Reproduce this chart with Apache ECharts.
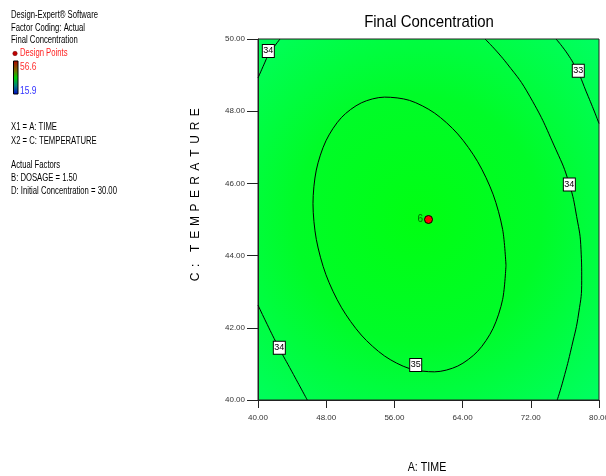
<!DOCTYPE html>
<html>
<head>
<meta charset="utf-8">
<script src="https://cdn.jsdelivr.net/npm/echarts@6/dist/echarts.min.js"></script>
<style>html,body{margin:0;padding:0;background:#fff}#c{width:606px;height:476px}</style>
</head>
<body>
<div id="c"></div>
<script>
// ---- data ----
var xTicks = [40, 48, 56, 64, 72, 80];
var yTicks = [40, 42, 44, 46, 48, 50];
// contour level 35 (closed loop), [TIME, TEMPERATURE]
var contour35 = [
  [69.09,43.73],[68.70,42.79],[67.57,41.98],[65.77,41.35],[63.43,40.94],[60.70,40.78],
  [57.77,40.87],[54.84,41.22],[52.11,41.80],[49.77,42.57],[47.97,43.47],[46.84,44.45],
  [46.45,45.44],[46.84,46.37],[47.97,47.18],[49.77,47.82],[52.11,48.23],[54.84,48.39],
  [57.77,48.30],[60.70,47.95],[63.43,47.37],[65.77,46.60],[67.57,45.70],[68.70,44.72],
  [69.09,43.73]
];
var contour34TopLeft = [[42.58,50.00],[41.21,49.56],[40.82,49.36],[40.00,48.92]];
var contour34Right = [
  [66.63,50.00],[69.17,49.33],[71.91,48.40],[74.96,46.93],[76.48,46.01],[77.38,45.08],
  [77.89,44.16],[77.97,43.32],[77.62,42.41],[76.80,41.48],[75.80,40.55],[75.10,40.00]
];
var contour34BottomLeft = [[40.00,42.63],[40.82,42.22],[42.38,41.48],[43.99,40.78],[45.78,40.00]];
var contour33 = [[74.96,50.00],[76.99,49.33],[78.75,48.40],[80.00,47.66]];
var contourLabels = [
  [41.21,49.67,'34'],[77.57,49.12,'33'],[76.52,45.97,'34'],[42.50,41.45,'34'],[58.50,40.97,'35']
];
var designPoints = [[60,45,'6']];
var infoLines = ['Design-Expert\u00ae Software','Factor Coding: Actual','Final Concentration'];
var factorLines = ['X1 = A: TIME','X2 = C: TEMPERATURE'];
var actualLines = ['Actual Factors','B: DOSAGE = 1.50','D: Initial Concentration = 30.00'];
var scaleMax = '56.6', scaleMin = '15.9';
var titleText = 'Final Concentration';
var xName = 'A: TIME';
var yNameLetters = ['C',':','T','E','M','P','E','R','A','T','U','R','E'];

var chart = echarts.init(document.getElementById('c'), null, {renderer:'canvas'});
var sans = '"Liberation Sans", Arial, sans-serif';

function lineSeries(d, s){
  return {type:'line', data:d, smooth:s||0.3, symbol:'none', silent:true,
    lineStyle:{color:'#000', width:1}, z:3};
}
var graphics = [];
function txt(x,y,t,color,size,sx,align){
  graphics.push({type:'text', x:x, y:y, scaleX:sx||0.77,
    style:{text:t, x:0, y:0, fill:color||'#000', font:(size||10)+'px '+sans,
      textAlign:align||'left', textVerticalAlign:'middle'}});
}
infoLines.forEach(function(t,i){ txt(11, 15.7+i*12.5, t); });
graphics.push({type:'circle', shape:{cx:15, cy:53.5, r:2.2}, style:{fill:'#c00000', stroke:'#600', lineWidth:0.5}});
txt(20, 53.3, 'Design Points', '#ff2020');
graphics.push({type:'rect', shape:{x:13.5, y:61, width:4.5, height:33},
  style:{stroke:'#000', lineWidth:1, fill:new echarts.graphic.LinearGradient(0,0,0,1,[
    {offset:0,color:'#b00000'},{offset:0.3,color:'#707000'},{offset:0.5,color:'#00d000'},
    {offset:0.75,color:'#008080'},{offset:1,color:'#0000d0'}])}});
txt(20, 66.7, scaleMax, '#ff3030', 11);
txt(20, 90.5, scaleMin, '#3030ff', 11);
factorLines.forEach(function(t,i){ txt(11, 127.7+i*13.3, t); });
actualLines.forEach(function(t,i){ txt(11, 165.7+i*13, t); });
// title
txt(429, 22, titleText, '#000', 17, 0.88, 'center');
// x axis name
txt(427, 467, xName, '#000', 13, 0.82, 'center');
// y axis name, letter spaced, reading bottom to top
yNameLetters.forEach(function(ch,i){
  var yy = 277 - i*13.6 + (i>=2 ? -1.5 : 0) + (i===1 ? 2 : 0);
  graphics.push({type:'group', x:196, y:yy, rotation:Math.PI/2, children:[
    {type:'text', style:{text:ch, x:0, y:0, fill:'#000', font:'12px '+sans, textAlign:'center', textVerticalAlign:'middle'}}]});
});

chart.setOption({
  animation:false,
  backgroundColor:'#fff',
  grid:{left:258, right:7, top:39, bottom:76, show:true, borderColor:'#222', borderWidth:1,
    outerBoundsMode:'none', containLabel:false,
    backgroundColor:new echarts.graphic.RadialGradient(0.47,0.5,0.8,[
      {offset:0,color:'#00ff12'},{offset:0.45,color:'#00fc28'},{offset:1,color:'#00ff6a'}])},
  xAxis:{type:'value', min:xTicks[0], max:xTicks[xTicks.length-1], interval:xTicks[1]-xTicks[0],
    axisLine:{show:true, onZero:false, lineStyle:{color:'#222'}},
    axisTick:{show:true, length:8, lineStyle:{color:'#222'}},
    axisLabel:{formatter:function(v){return v.toFixed(2);}, fontSize:8, fontFamily:sans, color:'#333', margin:14,
      showMinLabel:true, showMaxLabel:true, hideOverlap:false},
    splitLine:{show:false}},
  yAxis:{type:'value', min:yTicks[0], max:yTicks[yTicks.length-1], interval:yTicks[1]-yTicks[0],
    axisLine:{show:true, onZero:false, lineStyle:{color:'#222'}},
    axisTick:{show:true, length:11, lineStyle:{color:'#222'}},
    axisLabel:{formatter:function(v){return v.toFixed(2);}, fontSize:8, fontFamily:sans, color:'#333', margin:13,
      showMinLabel:true, showMaxLabel:true, hideOverlap:false},
    splitLine:{show:false}},
  graphic:graphics,
  series:[
    lineSeries(contour35), lineSeries(contour34TopLeft), lineSeries(contour34Right, 0.5),
    lineSeries(contour34BottomLeft, 0.5), lineSeries(contour33, 0.5),
    {type:'scatter', data:contourLabels, symbol:'rect', symbolSize:[12,13], z:5, silent:true,
      itemStyle:{color:'#fff', borderColor:'#000', borderWidth:1, opacity:1},
      label:{show:true, position:'inside', formatter:function(p){return p.data[2];},
        fontFamily:sans, fontSize:9, color:'#000'}},
    {type:'scatter', data:designPoints, symbol:'circle', symbolSize:8, z:6, silent:true,
      itemStyle:{color:'#ff0000', borderColor:'#000', borderWidth:1, opacity:1},
      label:{show:true, position:'left', distance:1, formatter:function(p){return p.data[2];},
        fontFamily:sans, fontSize:10, color:'#007000'}}
  ]
});
</script>
</body>
</html>
